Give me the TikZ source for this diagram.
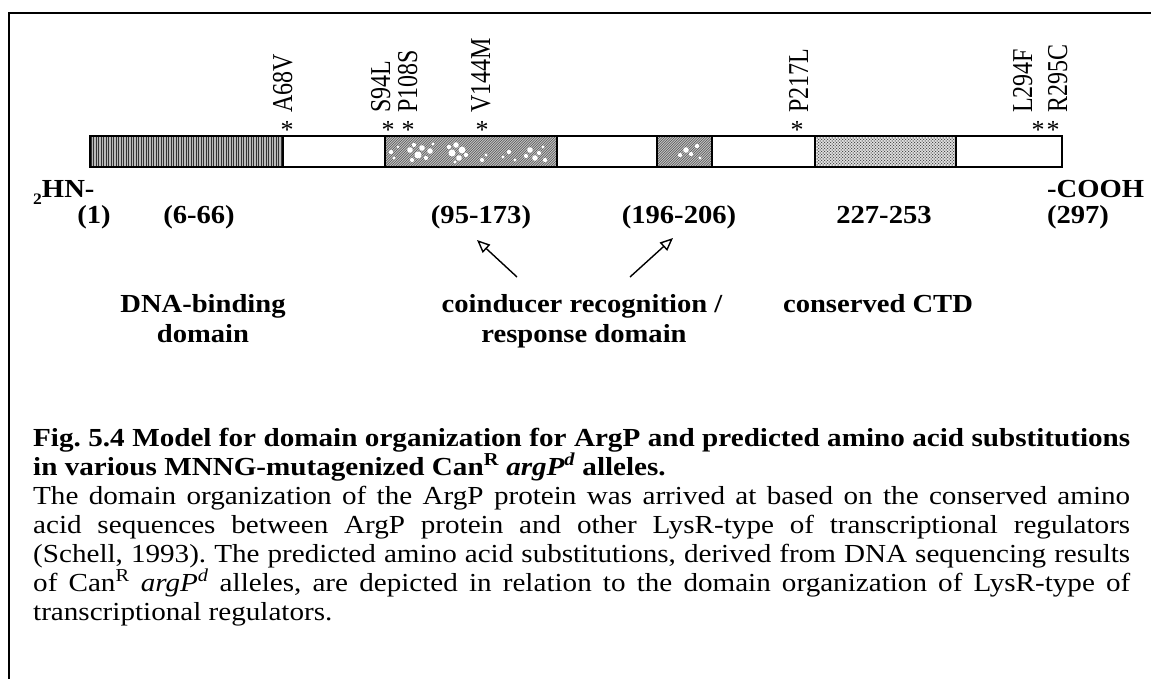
\documentclass[tikz,border=0pt]{standalone}
\usepackage{fontspec}
\usepackage{graphicx}
\setmainfont{Liberation Serif}[FakeStretch=1.12]
\newfontfamily\lblfont{Liberation Serif}[FakeStretch=1.1]
\newfontfamily\rotfont{Liberation Serif}
\usetikzlibrary{arrows.meta}

\begin{document}
\frenchspacing
\begin{tikzpicture}[x=1pt,y=-1pt,
  lbl/.style={font=\lblfont\fontsize{26}{29}\selectfont\bfseries, inner sep=0pt, anchor=base},
  mut/.style={font=\rotfont\fontsize{24}{24}\selectfont, rotate=90, anchor=base west, inner sep=0pt},
  star/.style={font=\rotfont\fontsize{26}{26}\selectfont, anchor=base, inner sep=0pt},
  capline/.style={font=\fontsize{26}{29}\selectfont, anchor=base west, inner sep=0pt},
  seg/.style={draw=black, line width=1.4pt},
  pointer/.style={line width=1.4pt, -{Triangle[open, length=13pt, width=11pt, line width=1.4pt]}}
]
\useasboundingbox (0,0) rectangle (1151,679);
\fill[white] (0,0) rectangle (1151,679);
% frame
\draw[line width=1.8pt] (1151,13) -- (9,13) -- (9,679);

% --- protein bar ---
% DNA-binding domain (vertical hatching)
\fill[gray!55] (90,136) rectangle (283,167);
\foreach \x in {91,93.5,...,282}
  \draw[black!80, line width=0.9pt] (\x,136) -- (\x,167);

% coinducer recognition / response domain, two blocks (diagonal hatching, speckled)
\begin{scope}
  \clip (385,136) rectangle (557,167) (657,136) rectangle (712,167);
  \fill[gray!45] (385,136) rectangle (712,167);
  \foreach \k in {350,352.5,...,712}
    \draw[black!70, line width=0.6pt] (\k,167) -- (\k+31,136);
  \foreach \px/\py/\r in {391/152/2.1,394/158/1.7,398/147/1.4,
      410/150/2.8,414/145/2.1,418/155/3.5,422/148/2.8,426/158/2.1,430/151/2.8,433/144/1.7,412/160/2.1,
      449/147/2.1,452/153/3.5,456/145/2.8,459/158/2.8,462/150/3.5,466/155/2.1,455/162/1.7,
      482/160/2.1,486/155/1.7,
      503/157/1.7,509/152/2.1,515/160/1.7,
      526/156/2.1,530/150/2.8,535/158/2.8,539/153/2.1,543/147/1.7,545/160/2.1,
      680/155/2.1,686/150/2.8,691/154/2.1,697/146/2.1,700/158/1.7}
    \fill[white] (\px,\py) circle (\r);
\end{scope}

% conserved CTD (dots)
\fill[gray!15] (815,136) rectangle (956,167);
\foreach \x in {817,820,...,955}
  \foreach \y in {138,141,...,166}
    \fill[black!70] (\x,\y) circle (0.75pt);
\foreach \x in {818.5,821.5,...,955}
  \foreach \y in {139.5,142.5,...,166}
    \fill[black!70] (\x,\y) circle (0.75pt);

% outline and segment borders
\draw[seg] (90,136) rectangle (1062,167);
\foreach \x in {283,385,557,657,712,815,956}
  \draw[seg] (\x,136) -- (\x,167);

% --- mutation sites ---
\node[star] (s1) at (287,139) {*};
\node[star] (s2) at (388,139) {*};
\node[star] (s3) at (408,139) {*};
\node[star] (s4) at (482,139) {*};
\node[star] (s5) at (797,139) {*};
\node[star] (s6) at (1038,139) {*};
\node[star] (s7) at (1053,139) {*};
\node[mut] (m1) at (292,113) {\scalebox{1}[1.2]{A68V}};
\node[mut] (m2) at (390,113) {\scalebox{1}[1.2]{S94L}};
\node[mut] (m3) at (417,113) {\scalebox{1}[1.2]{P108S}};
\node[mut] (m4) at (490,113) {\scalebox{1}[1.2]{V144M}};
\node[mut] (m5) at (808,113) {\scalebox{1}[1.2]{P217L}};
\node[mut] (m6) at (1032,113) {\scalebox{1}[1.2]{L294F}};
\node[mut] (m7) at (1067,113) {\scalebox{1}[1.2]{R295C}};

% --- termini and domain boundaries ---
\node[lbl, anchor=base west] (nterm) at (33,198) {\raisebox{-6pt}{\fontsize{16}{16}\selectfont 2}HN-};
\node[lbl, anchor=base west] (cterm) at (1047,198) {-COOH};
\node[lbl] (r1) at (94,223) {(1)};
\node[lbl] (r2) at (199,223) {(6-66)};
\node[lbl] (r3) at (481,223) {(95-173)};
\node[lbl] (r4) at (679,223) {(196-206)};
\node[lbl] (r5) at (884,223) {227-253};
\node[lbl] (r6) at (1078,223) {(297)};

% --- domain names ---
\node[lbl] (d1) at (203,312) {DNA-binding};
\node[lbl] (d1b) at (203,342) {domain};
\node[lbl] (d2) at (582,312) {coinducer recognition /};
\node[lbl] (d2b) at (584,342) {response domain};
\node[lbl] (d3) at (878,312) {conserved CTD};

\coordinate (tailL) at (517,277);
\coordinate (tipL) at (477,240);
\coordinate (tailR) at (630,277);
\coordinate (tipR) at (673,238);
\draw[pointer] (tailL) -- (tipL);
\draw[pointer] (tailR) -- (tipR);

% --- caption ---
\node[capline] (c1) at (33,446) {\makebox[1097pt][s]{\bfseries Fig. 5.4 Model for domain organization for ArgP and predicted amino acid substitutions}};
\node[capline] (c2) at (33,475) {\bfseries in various MNNG-mutagenized Can\textsuperscript{R} \textit{argP\textsuperscript{d}} alleles.};
\node[capline] (c3) at (33,504) {\makebox[1097pt][s]{The domain organization of the ArgP protein was arrived at based on the conserved amino}};
\node[capline] (c4) at (33,533) {\makebox[1097pt][s]{acid sequences between ArgP protein and other LysR-type of transcriptional regulators}};
\node[capline] (c5) at (33,562) {\makebox[1097pt][s]{(Schell, 1993). The predicted amino acid substitutions, derived from DNA sequencing results}};
\node[capline] (c6) at (33,591) {\makebox[1097pt][s]{of Can\textsuperscript{R} \textit{argP\textsuperscript{d}} alleles, are depicted in relation to the domain organization of LysR-type of}};
\node[capline] (c7) at (33,620) {transcriptional regulators.};
\end{tikzpicture}
\end{document}
